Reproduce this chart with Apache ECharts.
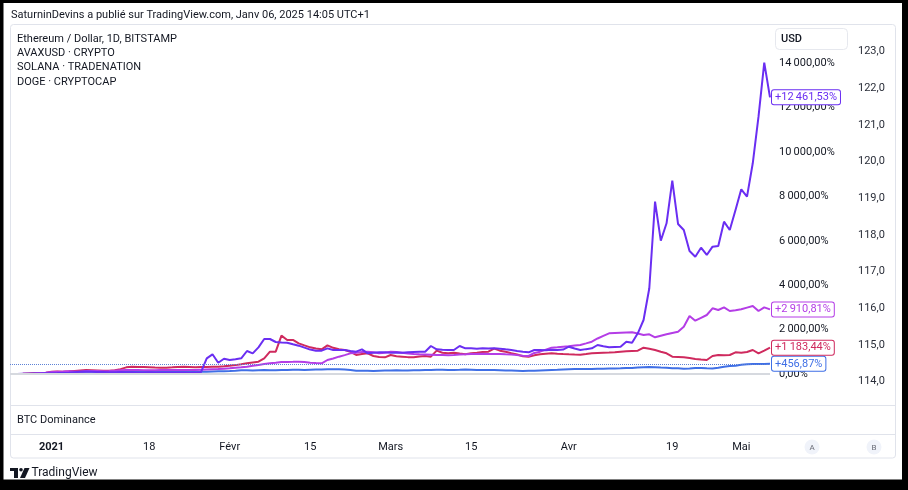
<!DOCTYPE html>
<html><head><meta charset="utf-8">
<script src="https://cdn.jsdelivr.net/npm/echarts@6/dist/echarts.min.js"></script>
<style>html,body{margin:0;padding:0;background:#000;}#c{width:908px;height:490px;}</style>
</head><body><div id="c"></div>
<script>
// ---- data ----
const startDate = '2020-12-25';
const seriesNames = ['Ethereum / Dollar', 'AVAXUSD', 'SOLANA', 'DOGE'];
const legendLines = ['Ethereum / Dollar, 1D, BITSTAMP', 'AVAXUSD · CRYPTO', 'SOLANA · TRADENATION', 'DOGE · CRYPTOCAP'];
const tickDates = ['2021-01-01','2021-01-18','2021-02-01','2021-02-15','2021-03-01','2021-03-15','2021-04-01','2021-04-19','2021-05-01'];
const tickLabels = ['2021','18','Févr','15','Mars','15','Avr','19','Mai'];
const ethPct = [
 0,3,5,14,18,20,17,20,30,55,
 65,75,95,100,105,90,70,75,80,95,
 100,105,115,110,100,120,110,85,100,105,
 110,115,110,100,105,115,120,125,130,145,
 165,170,160,170,175,165,170,180,185,190,
 190,180,190,200,205,210,215,210,200,185,
 150,145,150,140,150,160,155,165,160,155,
 165,170,180,185,190,195,180,185,190,200,
 190,180,175,185,180,170,160,155,150,140,
 145,150,160,170,180,190,205,215,220,225,
 220,230,235,240,245,250,255,265,275,290,
 300,310,305,290,280,260,255,240,250,265,
 275,260,250,280,330,360,375,420,440,445,
 450,452,456.87];
const avaxPct = [
 0,5,10,20,30,40,60,100,110,105,
 120,140,160,180,170,160,150,150,170,220,
 300,330,320,310,300,290,285,285,300,320,
 330,320,300,310,320,330,330,350,375,400,
 440,481,520,556,706,1006,1006,1727,1532,1532,
 1382,1290,1201,1150,1111,1291,1180,1111,1081,1000,
 856,900,931,811,770,751,856,800,781,760,
 751,790,811,781,1051,960,931,961,920,886,
 940,961,990,1006,1141,1051,1000,931,880,800,
 781,840,886,910,931,915,901,890,880,871,
 900,931,950,960,965,976,1000,1020,1036,1051,
 1186,1140,1081,1000,931,781,770,751,720,676,
 650,631,811,856,850,856,976,961,990,1081,
 931,1051,1183.44];
const solPct = [
 0,3,8,15,25,40,60,90,104,110,
 120,110,115,130,140,130,120,130,150,170,
 180,180,175,170,165,170,175,180,185,180,
 175,180,180,190,200,210,220,240,255,280,
 300,330,370,410,450,480,510,541,545,550,
 556,540,510,490,481,631,700,781,850,931,
 960,990,1006,980,931,960,1006,990,960,920,
 901,890,880,870,860,856,850,860,880,890,
 901,901,910,900,905,901,890,880,850,820,
 811,950,1006,1100,1186,1200,1231,1250,1280,1306,
 1380,1456,1600,1720,1832,1850,1862,1870,1877,1820,
 1757,1787,1652,1720,1787,1850,1907,2132,2613,2403,
 2530,2658,2958,2883,3003,2838,2870,2913,2990,3063,
 2838,3003,2910.81];
const dogePct = [
 0,5,10,15,20,25,30,35,40,50,
 60,80,100,110,100,90,85,80,80,85,
 80,75,70,72,75,70,68,65,66,64,
 62,60,62,80,707,887,509,689,631,660,
 707,1036,931,1201,1577,1577,1441,1420,1411,1340,
 1276,1186,1100,1051,1051,1156,1081,1081,1081,1040,
 1006,1111,931,960,976,976,960,970,961,980,
 990,1000,1006,1261,1111,1090,1081,1081,1261,1156,
 1156,1140,1160,1150,1156,1140,1110,1081,1040,1000,
 976,1081,1081,1070,1090,1081,1100,1231,1150,1081,
 1120,1156,1306,1250,1201,1220,1231,1456,1411,1832,
 2433,3861,7762,6005,6789,8708,6758,6487,5541,5284,
 5690,5361,5735,5766,6861,6487,7388,8321,7987,9492,
 11591,14024,12461.53];
const rightScaleMin = 114, rightScaleMax = 123;

// ---- helpers ----
const FONT = 'Roboto, "Liberation Sans", Arial, sans-serif';
const DAY = 86400000;
const t0 = Date.parse(startDate);
const dayIndex = d => Math.round((Date.parse(d) - t0) / DAY);
const tickIdx = tickDates.map(dayIndex);
const tickMap = {}; tickIdx.forEach((v, k) => tickMap[v] = tickLabels[k]);
function fmt(v, dec) {
  const s = Math.abs(v).toFixed(dec);
  let [ip, fp] = s.split('.');
  ip = ip.replace(/\B(?=(\d{3})+(?!\d))/g, '\u2009');
  return (v < 0 ? '−' : '') + ip + (fp ? ',' + fp : '');
}
const colors = ['#3f6fe6', '#cf2a5e', '#b43de6', '#6a2ef2'];
const datasets = [ethPct, avaxPct, solPct, dogePct];

function mkSeries(k) {
  const col = colors[k];
  const s = {
    name: seriesNames[k], type: 'line', z: 3,
    data: datasets[k].map((v, i) => [i, v]),
    showSymbol: false, symbol: 'none',
    lineStyle: { width: 2, color: col }, itemStyle: { color: col },
    endLabel: {
      show: true, distance: 2,
      formatter: p => '+' + fmt(p.value[1], 2) + '%',
      color: col, backgroundColor: '#fff', borderColor: col, borderWidth: 1, borderRadius: 2,
      padding: [2, 3, 1, 3], fontSize: 11, fontFamily: FONT
    }
  };
  if (k === 0) {
    s.markLine = { silent: true, symbol: 'none', label: { show: false },
      data: [{ yAxis: ethPct[ethPct.length - 1], lineStyle: { type: 'dotted', color: '#5d82d6', width: 1 } }] };
  }
  return s;
}

const txt = (text, x, y, extra) => Object.assign({ type: 'text', x, y, z: 10,
  style: Object.assign({ text, fill: '#131722', font: '11px ' + FONT, verticalAlign: 'middle', align: 'left' }, extra || {}) });

const graphic = [
  { type: 'rect', z: -100, shape: { x: 3.5, y: 3, width: 898.5, height: 476.5 }, style: { fill: '#fff' } },
  { type: 'rect', z: -50, shape: { x: 10.5, y: 24.5, width: 885, height: 433.5, r: 3 }, style: { fill: 'none', stroke: '#e0e3eb', lineWidth: 1 } },
  { type: 'line', z: -50, shape: { x1: 10.5, y1: 405.5, x2: 895.5, y2: 405.5 }, style: { stroke: '#e0e3eb', lineWidth: 1 } },
  { type: 'line', z: -50, shape: { x1: 10.5, y1: 434.5, x2: 895.5, y2: 434.5 }, style: { stroke: '#e0e3eb', lineWidth: 1 } },
  txt('SaturninDevins a publié sur TradingView.com, Janv 06, 2025 14:05 UTC+1', 11, 15, { font: '11px ' + FONT }),
  txt(legendLines[0], 17, 39),
  txt(legendLines[1], 17, 53),
  txt(legendLines[2], 17, 67),
  txt(legendLines[3], 17, 82),
  { type: 'rect', z: 5, shape: { x: 775.5, y: 28.5, width: 72, height: 21, r: 4 }, style: { fill: '#fff', stroke: '#e6e8ee', lineWidth: 1 } },
  txt('USD', 781, 39.5, { font: '500 11px ' + FONT }),
  txt('BTC Dominance', 17, 420),
  { type: 'circle', z: 5, shape: { cx: 812, cy: 447, r: 7.5 }, style: { fill: '#f0f3fa' } },
  { type: 'circle', z: 5, shape: { cx: 874, cy: 447, r: 7.5 }, style: { fill: '#f0f3fa' } },
  txt('A', 812, 447.5, { align: 'center', font: '8px ' + FONT, fill: '#6a6d78' }),
  txt('B', 874, 447.5, { align: 'center', font: '8px ' + FONT, fill: '#6a6d78' }),
  // TradingView logo
  { type: 'rect', z: 10, shape: { x: 10, y: 468, width: 8, height: 3 }, style: { fill: '#131722' } },
  { type: 'rect', z: 10, shape: { x: 14, y: 468, width: 4, height: 10 }, style: { fill: '#131722' } },
  { type: 'circle', z: 10, shape: { cx: 21, cy: 469.8, r: 1.8 }, style: { fill: '#131722' } },
  { type: 'polygon', z: 10, shape: { points: [[24.5, 468], [29.5, 468], [25, 478], [20, 478]] }, style: { fill: '#131722' } },
  txt('TradingView', 31.5, 473, { font: '12px ' + FONT })
];

const option = {
  animation: false,
  backgroundColor: '#000',
  textStyle: { fontFamily: FONT },
  grid: { left: 10, top: 18.8, width: 760, height: 399.6 },
  xAxis: {
    type: 'value', min: -0.23, max: 132,
    axisLine: { show: false }, axisTick: { show: false }, splitLine: { show: false },
    axisLabel: {
      customValues: tickIdx, margin: 29, verticalAlign: 'middle', fontSize: 11, color: '#131722', fontFamily: FONT,
      formatter: v => { const l = tickMap[Math.round(v)] || ''; return l === tickLabels[0] ? '{b|' + l + '}' : l; },
      rich: { b: { fontWeight: 'bold', fontSize: 11, color: '#131722', fontFamily: FONT } }
    }
  },
  yAxis: [
    { type: 'value', position: 'right', min: -2000, max: 16000, interval: 2000,
      axisLine: { show: false }, axisTick: { show: false }, splitLine: { show: false },
      axisLabel: { margin: 9, fontSize: 11, color: '#131722', fontFamily: FONT,
        formatter: v => (v < 0 || v > 14000) ? '' : fmt(v, 2) + '%' } },
    { type: 'value', position: 'right', offset: 80, min: 113, max: 123.897, interval: 1,
      axisLine: { show: false }, axisTick: { show: false }, splitLine: { show: false },
      axisLabel: { margin: 8, fontSize: 11, color: '#2a2e39', fontFamily: FONT,
        formatter: v => (v < rightScaleMin - 0.01 || v > rightScaleMax + 0.01) ? '' : v.toFixed(1).replace('.', ',') } }
  ],
  series: [
    { name: 'zero', type: 'line', z: 1, data: [], silent: true,
      markLine: { silent: true, symbol: 'none', label: { show: false },
        data: [{ yAxis: 0, lineStyle: { type: 'solid', color: '#d6d9df', width: 2 } }] } },
    mkSeries(0), mkSeries(1), mkSeries(2), mkSeries(3)
  ],
  graphic
};
const chart = echarts.init(document.getElementById('c'));
chart.setOption(option);
</script></body></html>
